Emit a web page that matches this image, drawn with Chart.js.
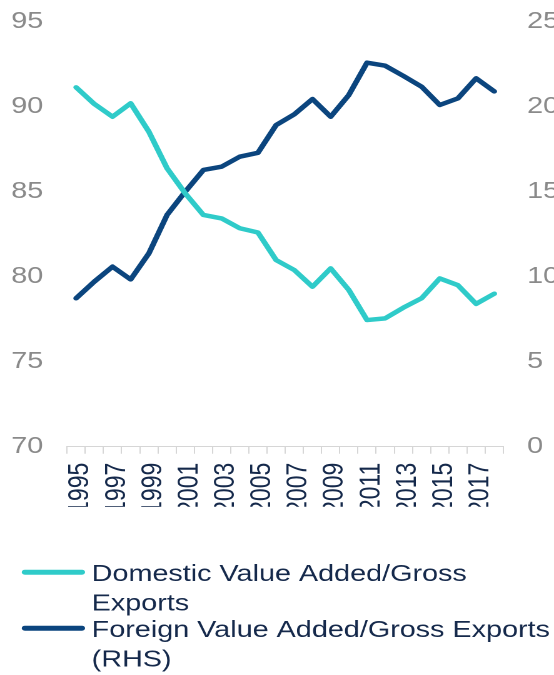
<!DOCTYPE html>
<html>
<head>
<meta charset="utf-8">
<script src="https://cdn.jsdelivr.net/npm/chart.js@4"></script>
<style>
  html, body { margin: 0; padding: 0; background: #ffffff; overflow: hidden; }
  #wrap { position: absolute; left: 0; top: 0; width: 443px; height: 675px;
          transform: scaleX(1.2506); transform-origin: 0 0; }
</style>
</head>
<body>
<div id="wrap"><canvas id="chart"></canvas></div>
<script>
// ---- data ----
const years = ['1995','1996','1997','1998','1999','2000','2001','2002','2003','2004','2005','2006',
               '2007','2008','2009','2010','2011','2012','2013','2014','2015','2016','2017','2018'];
const domesticVA = [91.14, 90.16, 89.41, 90.2, 88.53, 86.38, 84.9, 83.63, 83.43, 82.85, 82.6, 80.98,
                    80.39, 79.41, 80.49, 79.22, 77.45, 77.55, 78.18, 78.73, 79.9, 79.5, 78.4, 79.0];
const foreignVA  = [8.73, 9.71, 10.59, 9.84, 11.37, 13.63, 15.0, 16.28, 16.47, 17.06, 17.29, 18.92,
                    19.55, 20.45, 19.41, 20.69, 22.59, 22.41, 21.81, 21.18, 20.1, 20.49, 21.67, 20.9];
const seriesLabels = ['Domestic Value Added/Gross Exports', 'Foreign Value Added/Gross Exports (RHS)'];
const leftAxisRange = [70, 95];
const rightAxisRange = [0, 25];
const axisStep = 5;

// ---- styles ----
const TEAL = '#2fcbc9';
const NAVY = '#0b457e';
const GRAY_TXT = '#8a8a8a';
const DARK_TXT = '#15294b';
const FONT_FAMILY = "'Liberation Sans', Arial, sans-serif";
const FONT_SIZE = 23;

const legendPlugin = {
  id: 'customLegend',
  afterDraw(chart) {
    const ctx = chart.ctx;
    const baselines = [581, 637];
    const lineGap = 29.3;
    const textX = 73.3;
    const maxW = 372;
    ctx.save();
    ctx.font = FONT_SIZE + 'px ' + FONT_FAMILY;
    ctx.textBaseline = 'alphabetic';
    ctx.textAlign = 'left';
    chart.data.datasets.forEach((ds, i) => {
      const by = baselines[i];
      ctx.beginPath();
      ctx.lineCap = 'round';
      ctx.lineWidth = 5;
      ctx.strokeStyle = ds.borderColor;
      ctx.moveTo(19.9, by - 8.8);
      ctx.lineTo(65.5, by - 8.8);
      ctx.stroke();
      const words = ds.label.split(' ');
      const lines = [];
      let cur = '';
      words.forEach(w => {
        const test = cur ? cur + ' ' + w : w;
        if (ctx.measureText(test).width > maxW && cur) { lines.push(cur); cur = w; }
        else cur = test;
      });
      if (cur) lines.push(cur);
      ctx.fillStyle = DARK_TXT;
      lines.forEach((ln, k) => ctx.fillText(ln, textX, by + k * lineGap));
    });
    ctx.restore();
  }
};

new Chart(document.getElementById('chart'), {
  type: 'line',
  data: {
    labels: years,
    datasets: [
      { label: seriesLabels[0], data: domesticVA, yAxisID: 'y', borderColor: TEAL, backgroundColor: TEAL,
        borderWidth: 4.5, pointRadius: 0, tension: 0, borderJoinStyle: 'round', borderCapStyle: 'round' },
      { label: seriesLabels[1], data: foreignVA, yAxisID: 'y1', borderColor: NAVY, backgroundColor: NAVY,
        borderWidth: 4.5, pointRadius: 0, tension: 0, borderJoinStyle: 'round', borderCapStyle: 'round' }
    ]
  },
  plugins: [legendPlugin],
  options: {
    responsive: true,
    maintainAspectRatio: false,
    devicePixelRatio: 2,
    animation: false,
    layout: { padding: { left: 0, right: 0, top: 21.7, bottom: 168.3 } },
    plugins: { legend: { display: false }, tooltip: { enabled: false } },
    scales: {
      x: {
        type: 'category',
        offset: true,
        grid: { display: true, drawOnChartArea: false, drawTicks: true, tickLength: 7,
                color: '#d6d6d6', lineWidth: 1, offset: true },
        border: { display: true, color: '#d6d6d6', width: 1 },
        ticks: {
          autoSkip: false, maxRotation: 90, minRotation: 90, padding: 9, labelOffset: 3.5,
          color: DARK_TXT, font: { family: FONT_FAMILY, size: FONT_SIZE, lineHeight: 0.95 },
          callback: function(v, i) { return i % 2 === 0 ? years[i] : ''; }
        },
        afterFit: s => { s.height = 60; }
      },
      y: {
        position: 'left',
        min: leftAxisRange[0], max: leftAxisRange[1],
        grid: { display: false, drawTicks: true, tickLength: 19 },
        border: { display: false },
        ticks: { stepSize: axisStep, padding: 0, color: GRAY_TXT,
                 font: { family: FONT_FAMILY, size: FONT_SIZE } },
        afterFit: s => { s.width = 53.6; }
      },
      y1: {
        position: 'right',
        min: rightAxisRange[0], max: rightAxisRange[1],
        grid: { display: false, drawTicks: true, tickLength: 19 },
        border: { display: false },
        ticks: { stepSize: axisStep, padding: 0, color: GRAY_TXT,
                 font: { family: FONT_FAMILY, size: FONT_SIZE } },
        afterFit: s => { s.width = 40.5; }
      }
    }
  }
});
</script>
</body>
</html>
